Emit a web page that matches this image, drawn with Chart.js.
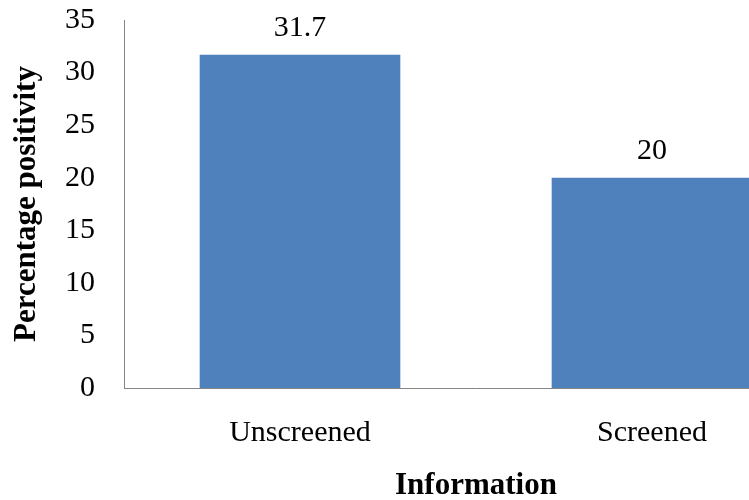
<!DOCTYPE html>
<html>
<head>
<meta charset="utf-8">
<script src="https://cdn.jsdelivr.net/npm/chart.js@4.4.0/dist/chart.umd.min.js"></script>
<style>
  html, body { margin:0; padding:0; overflow:hidden; background:#fff; }
  #wrap { width:749px; height:500px; overflow:hidden; }
  canvas { display:block; margin-top:-27px; }
</style>
</head>
<body>
<div id="wrap"><canvas id="positivityChart" width="840" height="539"></canvas></div>
<script>
var categories = ["Unscreened", "Screened"];
var positivity = [31.7, 20];
var yTicks = [0, 5, 10, 15, 20, 25, 30, 35];
var xTitle = 'Information';

var serif = '"Liberation Serif", "Times New Roman", serif';

// value above each bar, plus the x axis title under the category labels
var barValueLabels = {
    id:'barValueLabels',
    afterDatasetsDraw:function(chart) {
        var ctx = chart.ctx;
        var area = chart.chartArea;
        var meta = chart.getDatasetMeta(0);
        ctx.save();
        ctx.fillStyle = '#000';
        ctx.textAlign = 'center';
        ctx.textBaseline = 'alphabetic';
        ctx.font = '30px ' + serif;
        meta.data.forEach(function(bar, i) {
            ctx.fillText(String(positivity[i]), bar.x, bar.y - 19);
        });
        ctx.font = 'bold 31px ' + serif;
        ctx.fillText(xTitle, (area.left + area.right) / 2, area.bottom + 106);
        ctx.restore();
    }
};

var chart = new Chart(document.getElementById("positivityChart"), {
    type:"bar",
    data:{
        labels:categories,
        datasets:[{
            data:positivity,
            backgroundColor:'#4F81BD',
            borderWidth:0,
            categoryPercentage:1.0,
            barPercentage:0.57
        }]
    },
    options:{
        responsive:false,
        animation:false,
        layout:{ padding:{ top:20, right:12, left:0, bottom:0 } },
        plugins:{
            legend:{ display:false },
            tooltip:{ enabled:false }
        },
        scales:{
            x:{
                grid:{ display:false, drawTicks:false },
                border:{ color:'#868686', width:1 },
                ticks:{
                    color:'#000',
                    padding:27,
                    maxRotation:0,
                    font:{ family:serif, size:30 }
                },
                afterFit:function(scale) {
                    scale.height = 124;
                }
            },
            y:{
                min:0,
                max:35,
                afterBuildTicks:function(axis) {
                    axis.ticks = yTicks.map(function(v){ return { value:v }; });
                },
                grid:{ display:false, drawTicks:false },
                border:{ color:'#868686', width:1 },
                ticks:{
                    color:'#000',
                    padding:29,
                    font:{ family:serif, size:30 }
                },
                title:{
                    display:true,
                    text:'Percentage positivity',
                    color:'#000',
                    padding:{ top:8, bottom:0 },
                    font:{ family:serif, size:31, weight:'bold' }
                },
                afterFit:function(scale) {
                    scale.width = 124;
                }
            }
        }
    },
    plugins:[barValueLabels]
});
</script>
</body>
</html>
